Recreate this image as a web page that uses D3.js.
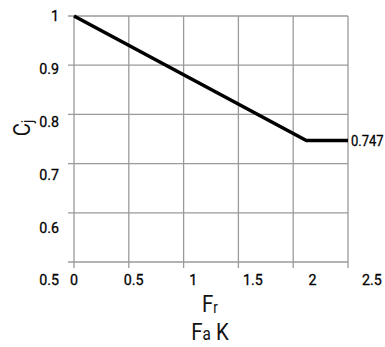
<!DOCTYPE html>
<html><head><meta charset="utf-8">
<script src="https://cdn.jsdelivr.net/npm/d3@7"></script>
<style>
html,body{margin:0;padding:0;background:#fff;}
svg{display:block;font-family:"Roboto","Liberation Sans",sans-serif;}
</style></head>
<body><svg id="c" width="385" height="347"></svg>
<script>
const xTicks = [0, 0.5, 1, 1.5, 2, 2.5];
const yTicks = [0.5, 0.6, 0.7, 0.8, 0.9, 1];
const lineX = [0, 2.12, 2.5];
const lineY = [1, 0.747, 0.747];
const endLabel = "0.747";

const svg = d3.select("#c");
const x = d3.scaleLinear().domain([0, 2.5]).range([74, 348]);
const y = d3.scaleLinear().domain([0.5, 1]).range([262, 16]);
const xLab = d3.scaleLinear().domain([0, 2.5]).range([74, 372]);
const yLab = d3.scaleLinear().domain([0.5, 1]).range([280, 16]);
const SX = 0.92;

const grid = svg.append("g").attr("stroke", "#9a9a9a").attr("stroke-width", 1.3);
grid.selectAll("line.v").data(xTicks).join("line")
  .attr("x1", d => x(d)).attr("x2", d => x(d))
  .attr("y1", y(1)).attr("y2", y(0.5) + 6);
grid.selectAll("line.h").data(yTicks).join("line")
  .attr("y1", d => y(d)).attr("y2", d => y(d))
  .attr("x1", x(0) - 6).attr("x2", x(2.5));

svg.append("g").selectAll("g").data(yTicks).join("g")
  .attr("transform", d => `translate(59,${yLab(d)}) scale(${SX},1)`)
  .append("text").attr("dy", "0.35em")
  .attr("text-anchor", "end").attr("font-size", 15.5).attr("fill", "#000")
  .attr("stroke", "#000").attr("stroke-width", 0.3)
  .text(d => d3.format("")(d));
svg.append("g").selectAll("g").data(xTicks).join("g")
  .attr("transform", d => `translate(${xLab(d)},280) scale(${SX},1)`)
  .append("text").attr("dy", "0.35em")
  .attr("text-anchor", "middle").attr("font-size", 15.5).attr("fill", "#000")
  .attr("stroke", "#000").attr("stroke-width", 0.3)
  .text(d => d3.format("")(d));

const pts = lineX.map((v, i) => [v, lineY[i]]);
svg.append("path").datum(pts)
  .attr("fill", "none").attr("stroke", "#000").attr("stroke-width", 3.5)
  .attr("stroke-linejoin", "miter")
  .attr("d", d3.line().x(d => x(d[0])).y(d => y(d[1])));

svg.append("g").attr("transform", `translate(${x(2.5) + 3},${y(lineY[2])}) scale(0.84,1)`)
  .append("text").attr("dy", "0.35em")
  .attr("font-size", 15.5).attr("fill", "#000")
  .attr("stroke", "#000").attr("stroke-width", 0.3).text(endLabel);

// y title
const yt = svg.append("g").attr("transform", "translate(30,128) rotate(-90) scale(0.85,1)")
  .append("text").attr("text-anchor", "middle").attr("font-size", 24).attr("fill", "#111");
yt.append("tspan").text("C");
yt.append("tspan").attr("font-size", 16).attr("dy", 3).text("j");

// x title
const xt1 = svg.append("g").attr("transform", "translate(210,312) scale(0.85,1)")
  .append("text").attr("text-anchor", "middle").attr("font-size", 24).attr("fill", "#111");
xt1.append("tspan").text("F");
xt1.append("tspan").attr("font-size", 16).attr("dy", 1).text("r");
const xt2 = svg.append("g").attr("transform", "translate(210,340) scale(0.85,1)")
  .append("text").attr("text-anchor", "middle").attr("font-size", 24).attr("fill", "#111");
xt2.append("tspan").text("F");
xt2.append("tspan").attr("font-size", 18).text("a");
xt2.append("tspan").text(" K");
</script></body></html>
